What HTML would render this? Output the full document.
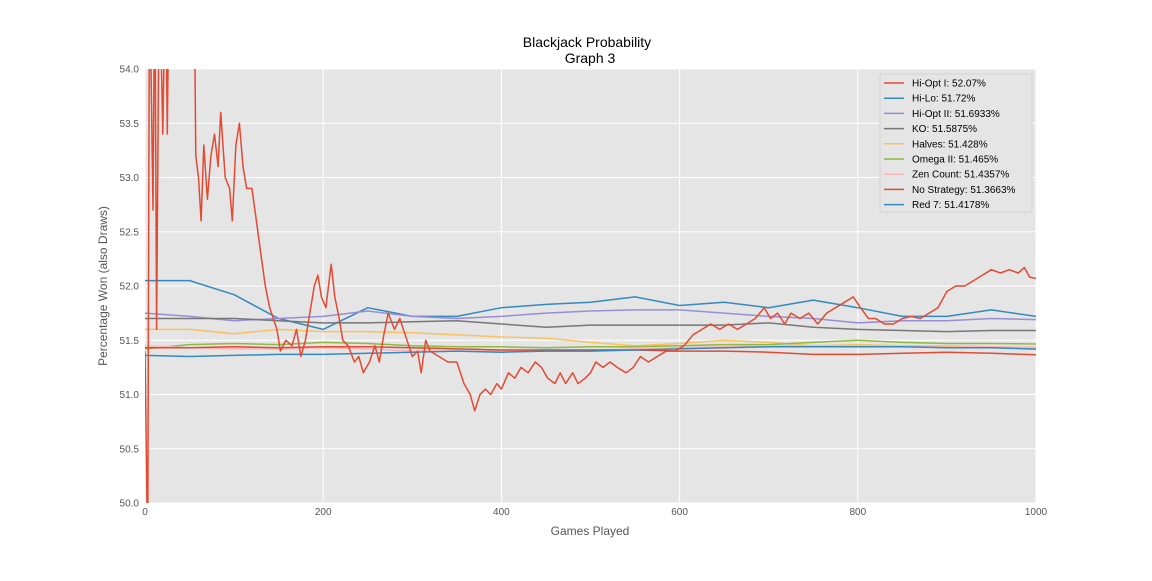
<!DOCTYPE html>
<html><head><meta charset="utf-8"><style>
body{margin:0;background:#fff;}
svg text{font-family:"Liberation Sans",sans-serif;}
</style></head><body>
<svg id="c" width="1152" height="576" xmlns="http://www.w3.org/2000/svg">
<rect x="145" y="69" width="891" height="434" fill="#E5E5E5"/>
<g id="grid"></g>
<defs><clipPath id="clip"><rect x="145" y="69" width="891" height="434"/></clipPath></defs>
<g id="lines" clip-path="url(#clip)"></g>
<g id="ticks"></g>
<text x="587" y="47" font-size="14" text-anchor="middle" fill="#000">Blackjack Probability</text>
<text x="590" y="63" font-size="14" text-anchor="middle" fill="#000">Graph 3</text>
<text x="590" y="535" font-size="12" text-anchor="middle" fill="#555">Games Played</text>
<text x="107" y="286" font-size="12" text-anchor="middle" fill="#555" transform="rotate(-90 107 286)">Percentage Won (also Draws)</text>
<g id="legend"></g>
</svg>
<script>
const xTicks=[0,200,400,600,800,1000];
const yTicks=[50.0,50.5,51.0,51.5,52.0,52.5,53.0,53.5,54.0];
const names=["Hi-Opt I: 52.07%","Hi-Lo: 51.72%","Hi-Opt II: 51.6933%","KO: 51.5875%","Halves: 51.428%","Omega II: 51.465%","Zen Count: 51.4357%","No Strategy: 51.3663%","Red 7: 51.4178%"];
const games=[0,50,100,150,200,250,300,350,400,450,500,550,600,650,700,750,800,850,900,950,1000];
const hiOpt1Pairs=[[0,51.4],[3,49.5],[5,55],[9,52.7],[11,55],[13,51.6],[16,55],[20,53.4],[23,55],[25,53.4],[27,55],[55,55],[57,53.2],[60,53.0],[63,52.6],[66,53.3],[70,52.8],[74,53.2],[78,53.4],[82,53.1],[85,53.6],[90,53.0],[95,52.9],[98,52.6],[102,53.3],[106,53.5],[110,53.1],[114,52.9],[120,52.9],[125,52.6],[130,52.3],[135,52.0],[140,51.8],[148,51.6],[152,51.4],[158,51.5],[165,51.45],[170,51.6],[175,51.35],[180,51.5],[186,51.8],[190,52.0],[194,52.1],[198,51.9],[203,51.8],[206,52.0],[209,52.2],[213,51.9],[218,51.7],[222,51.5],[228,51.45],[235,51.3],[240,51.35],[245,51.2],[252,51.3],[258,51.45],[263,51.3],[268,51.55],[273,51.75],[280,51.6],[286,51.7],[292,51.55],[300,51.35],[306,51.4],[310,51.2],[315,51.5],[320,51.4],[330,51.35],[340,51.3],[350,51.3],[358,51.1],[365,51.0],[370,50.85],[376,51.0],[382,51.05],[388,51.0],[395,51.1],[400,51.05],[408,51.2],[415,51.15],[422,51.25],[430,51.2],[438,51.3],[445,51.25],[452,51.15],[460,51.1],[466,51.2],[472,51.1],[480,51.2],[486,51.1],[494,51.15],[500,51.2],[506,51.3],[514,51.25],[522,51.3],[530,51.25],[540,51.2],[548,51.25],[556,51.35],[565,51.3],[575,51.35],[585,51.4],[595,51.4],[605,51.45],[615,51.55],[625,51.6],[635,51.65],[645,51.6],[655,51.65],[665,51.6],[675,51.65],[685,51.7],[695,51.8],[702,51.7],[710,51.75],[718,51.65],[725,51.75],[735,51.7],[745,51.75],[755,51.65],[765,51.75],[775,51.8],[785,51.85],[795,51.9],[803,51.8],[812,51.7],[820,51.7],[830,51.65],[840,51.65],[850,51.7],[860,51.72],[870,51.7],[880,51.75],[890,51.8],[900,51.95],[910,52.0],[920,52.0],[930,52.05],[940,52.1],[950,52.15],[960,52.12],[970,52.15],[980,52.12],[987,52.17],[993,52.08],[1000,52.07]];
const hiLo=[52.05,52.05,51.92,51.7,51.6,51.8,51.72,51.72,51.8,51.83,51.85,51.9,51.82,51.85,51.8,51.87,51.8,51.72,51.72,51.78,51.72];
const hiOpt2=[51.75,51.72,51.68,51.7,51.72,51.77,51.72,51.7,51.72,51.75,51.77,51.78,51.78,51.75,51.72,51.7,51.66,51.68,51.68,51.7,51.69];
const ko=[51.7,51.7,51.7,51.68,51.66,51.66,51.67,51.68,51.65,51.62,51.64,51.64,51.64,51.64,51.66,51.62,51.6,51.59,51.58,51.59,51.59];
const halves=[51.6,51.6,51.56,51.6,51.58,51.58,51.57,51.55,51.53,51.52,51.48,51.45,51.47,51.5,51.48,51.45,51.46,51.45,51.44,51.44,51.43];
const omega2=[51.42,51.46,51.47,51.46,51.48,51.47,51.45,51.44,51.44,51.43,51.44,51.44,51.45,51.46,51.46,51.48,51.5,51.48,51.47,51.47,51.465];
const zen=[51.45,51.43,51.42,51.42,51.43,51.42,51.4,51.4,51.4,51.41,51.41,51.42,51.43,51.44,51.45,51.45,51.45,51.45,51.45,51.44,51.436];
const noStrat=[51.43,51.43,51.44,51.43,51.44,51.44,51.43,51.42,51.41,51.41,51.41,51.41,51.4,51.4,51.39,51.37,51.37,51.38,51.39,51.38,51.366];
const red7=[51.36,51.35,51.36,51.37,51.37,51.38,51.39,51.4,51.39,51.4,51.4,51.41,51.42,51.43,51.44,51.44,51.44,51.44,51.43,51.43,51.418];
const colors=["#E24A33","#348ABD","#988ED5","#777777","#FBC15E","#8EBA42","#FFB5B8","#E24A33","#348ABD"];
const NS="http://www.w3.org/2000/svg";
const X0=145,X1=1036,Y0=503,Y1=69;
const xs=v=>X0+(v-0)/(1000-0)*(X1-X0);
const ys=v=>Y0-(v-50)/(54-50)*(Y0-Y1);
function mk(t,a,p){const e=document.createElementNS(NS,t);for(const k in a)e.setAttribute(k,a[k]);p.appendChild(e);return e;}
const grid=document.getElementById('grid'),ticks=document.getElementById('ticks');
xTicks.forEach(t=>{
 const l=mk('line',{x1:xs(t),x2:xs(t),y1:Y1,y2:Y0,stroke:'#fff','stroke-width':1},grid);
 
 
 const tx=mk('text',{x:xs(t),y:Y0+12,'font-size':10,'text-anchor':'middle',fill:'#555'},ticks);
 tx.textContent=t;
 
 
});
yTicks.forEach(t=>{
 const l=mk('line',{x1:X0,x2:X1,y1:ys(t),y2:ys(t),stroke:'#fff','stroke-width':1},grid);
 
 
 const tx=mk('text',{x:X0-6,y:ys(t)+3.5,'font-size':10,'text-anchor':'end',fill:'#555'},ticks);
 tx.textContent=t.toFixed(1);
 
 
});
const series=[hiOpt1Pairs].concat([hiLo,hiOpt2,ko,halves,omega2,zen,noStrat,red7].map(a=>games.map((g,j)=>[g,a[j]])));
const lines=document.getElementById('lines');
const order=[1,2,3,4,5,6,7,8,0];
order.forEach(i=>{
 const pts=series[i];
 const d=pts.map((p,j)=>(j?'L':'M')+xs(p[0]).toFixed(1)+','+ys(p[1]).toFixed(1)).join('');
 const p=mk('path',{d:d,fill:'none',stroke:colors[i],'stroke-width':1.5,'stroke-linejoin':'round'},lines);
 
 
});
const lg=document.getElementById('legend');
const box=mk('rect',{x:880,y:74,width:152,height:138,fill:'#E5E5E5',stroke:'#ccc','stroke-width':0.8,rx:2},lg);


names.forEach((n,i)=>{
 const y=83+i*15.2;
 const l=mk('line',{x1:884,x2:904,y1:y,y2:y,stroke:colors[i],'stroke-width':1.5},lg);
 
 
 const t=mk('text',{x:912,y:y+3.5,'font-size':10,fill:'#000'},lg);
 t.textContent=n;
 
 
});
</script>
</body></html>
